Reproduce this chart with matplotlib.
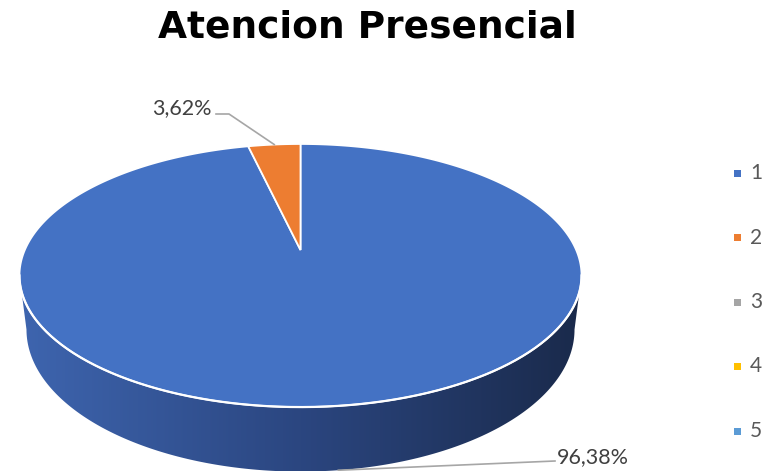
import numpy as np
import matplotlib.pyplot as plt
from matplotlib.patches import Polygon, Rectangle
from matplotlib.colors import LinearSegmentedColormap

labels = ['1', '2', '3', '4', '5']
values = [96.38, 3.62, 0, 0, 0]
colors = ['#4472C4', '#ED7D31', '#A5A5A5', '#FFC000', '#5B9BD5']
title = 'Atencion Presencial'

# perspective disc -> pixel mapping (y grows downward)
# X = cx + a*u/(1 + k*v),  Y = (b*v + c + drop)/(1 + k*v)
cx = 300.5
a, b, c, k = 275.7, 78.1, 250.0, -0.194
drop = 52.0        # thickness of the pie
shrink = 0.975     # bottom rim sits a bit farther away


def proj(theta, bottom=False):
    t = np.radians(theta)
    u, v = np.cos(t), -np.sin(t)
    den = 1 + k * v
    s = shrink if bottom else 1.0
    d = drop if bottom else 0.0
    return cx + s * a * u / den, (b * v + c + d) / den


fig = plt.figure(figsize=(7.67, 4.71), dpi=100)
ax = fig.add_axes([0, 0, 1, 1])
ax.set_xlim(0, 767)
ax.set_ylim(471, 0)
ax.axis('off')

# front wall between the two widest points, shaded left to right
t_edge = np.degrees(np.arcsin(-k))
th = np.linspace(180 + t_edge, 360 - t_edge, 240)
tx, ty = proj(th)
bx, by = proj(th[::-1], bottom=True)
side = Polygon(np.column_stack([np.r_[tx, bx], np.r_[ty, by]]),
               closed=True, facecolor='none', edgecolor='none')
ax.add_patch(side)
shade = LinearSegmentedColormap.from_list(
    'side', [(0, '#3E65AF'), (0.5, '#2B4680'), (1, '#1A2A4B')])
grad = ax.imshow(np.linspace(0, 1, 256)[None, :], cmap=shade, aspect='auto',
                 extent=(tx.min(), tx.max(), by.max() + 2, ty.min() - 2),
                 zorder=1)
grad.set_clip_path(side)
ax.plot(tx, ty, color='white', lw=1.6, zorder=3)

# top face wedges, clockwise from 12 o'clock; apex is the projected centre
total = sum(values)
start = 90.0
mids = []
for v, col in zip(values, colors):
    if v <= 0:
        continue
    sweep = 360.0 * v / total
    arc = np.linspace(start, start - sweep, max(int(sweep * 2), 2))
    px, py = proj(arc)
    pts = np.column_stack([np.r_[cx, px], np.r_[c, py]])
    ax.add_patch(Polygon(pts, closed=True, facecolor=col, edgecolor='white',
                         lw=1.3, zorder=2))
    mids.append(start - sweep / 2)
    start -= sweep

# data labels with leader lines
lab_font = dict(family='Lato', fontsize=15.5, color='#404040')
fmt = lambda v: f'{v:.2f}%'.replace('.', ',')

mx, my = proj(mids[0], bottom=True)
ax.plot([555, mx], [461, my], color='#A6A6A6', lw=1.2, zorder=4)
ax.text(557, 457, fmt(values[0]), ha='left', va='center', **lab_font)

ex, ey = proj(mids[1])
ax.plot([216, 229, ex], [114, 114, ey], color='#A6A6A6', lw=1.2, zorder=4)
ax.text(212, 108, fmt(values[1]), ha='right', va='center', **lab_font)

# legend
for i, (lab, col) in enumerate(zip(labels, colors)):
    y = 173 + 64.5 * i
    ax.add_patch(Rectangle((733.5, y - 3.5), 7, 7, facecolor=col,
                           edgecolor='none'))
    ax.text(750, y, lab, ha='left', va='center', family='Lato', fontsize=15,
            color='#595959')

ax.text(367, 27, title, ha='center', va='center', fontsize=27,
        fontweight='bold', color='black', family='DejaVu Sans')

fig.savefig('out.png', dpi=100)
